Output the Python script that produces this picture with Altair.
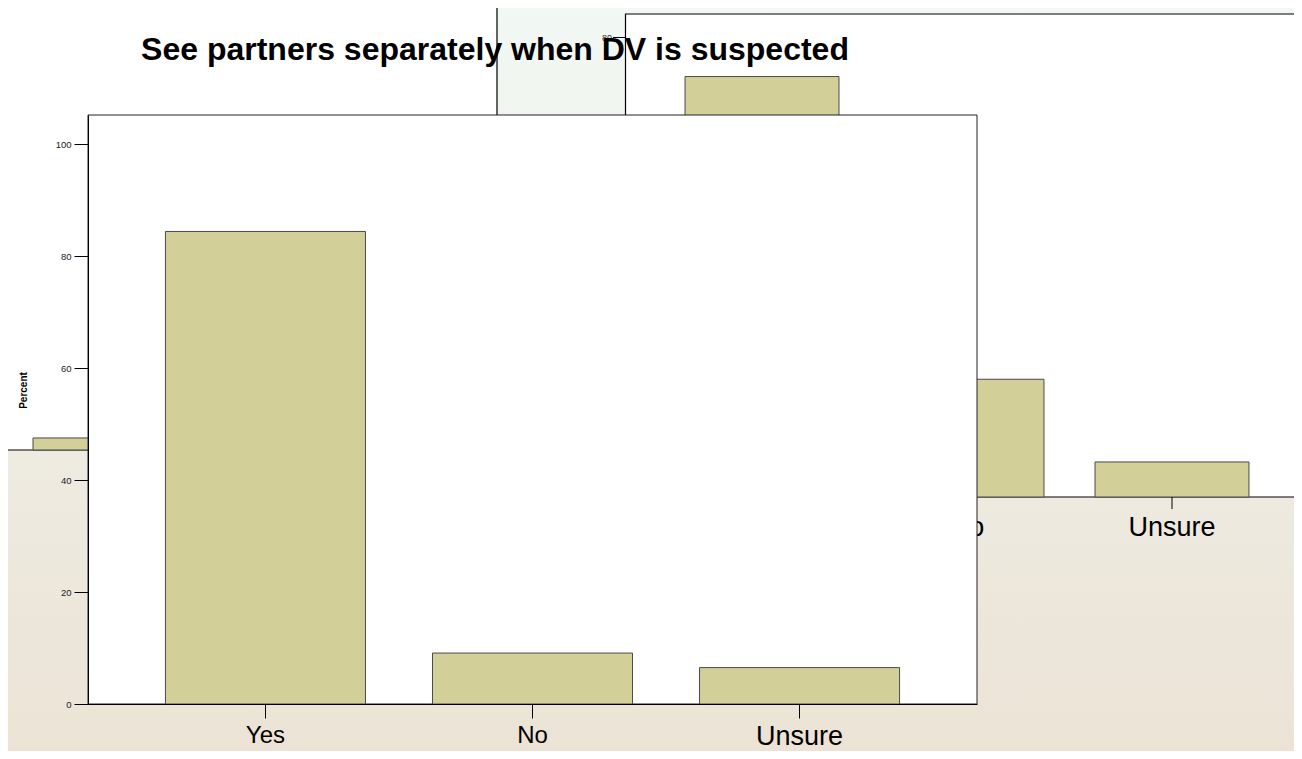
import altair as alt
import pandas as pd

# ---------------- data ----------------
categories = ["Yes", "No", "Unsure"]
main_values = [84.4, 9.1, 6.5]            # front chart (percent)
back_right_values = [73.2, 20.5, 6.1]     # chart peeking out behind, right
back_left_categories = ["Yes"]
back_left_values = [2.9]                  # only a sliver of this chart is visible
y_ticks = [0, 20, 40, 60, 80, 100]
back_right_tick = [80]
title_text = "See partners separately when DV is suspected"
y_title = "Percent"

main_df = pd.DataFrame({"cat": categories, "val": main_values})
br_df = pd.DataFrame({"cat": categories, "val": back_right_values})
bl_df = pd.DataFrame({"cat": back_left_categories, "val": back_left_values})
one = pd.DataFrame({"a": [0]})

# ---------------- layout (view = front plot frame) ----------------
W, H = 889, 589
PAD = dict(left=80, top=107, right=317, bottom=47)
FONT = "Liberation Sans"
BAR_FILL = "#d3cf98"
BAR_STROKE = "#4a4a4a"

bg = alt.Chart(one).mark_rect(
    color=alt.Gradient(
        gradient="linear", x1=0, x2=0, y1=0, y2=1,
        stops=[alt.GradientStop(color="#f2f8f4", offset=0),
               alt.GradientStop(color="#eeece2", offset=0.55),
               alt.GradientStop(color="#ece3d6", offset=1)],
    )
).encode(x=alt.value(-PAD["left"]), x2=alt.value(W + PAD["right"]),
         y=alt.value(-PAD["top"]), y2=alt.value(H + PAD["bottom"]))

# back-left panel
bl_panel = alt.Chart(one).mark_rect(fill="white", stroke="black", strokeWidth=1.2).encode(
    x=alt.value(-85), x2=alt.value(409), y=alt.value(-112), y2=alt.value(335))
bl_bars = alt.Chart(bl_df).mark_bar(fill=BAR_FILL, stroke=BAR_STROKE, strokeWidth=1).encode(
    x=alt.X("cat:N", sort=categories, axis=None,
            scale=alt.Scale(domain=categories, range=[-75, 405], paddingInner=0.25, paddingOuter=0.125)),
    y=alt.Y("val:Q", axis=None, scale=alt.Scale(domain=[0, 100], range=[335, -80], nice=False)),
)

# back-right panel
br_x = alt.Scale(domain=categories, range=[571.5, 1186.5], paddingInner=0.249, paddingOuter=0.1245)
br_y = alt.Scale(domain=[0, 80], range=[382, -77.5], nice=False)
br_panel = alt.Chart(one).mark_rect(fill="white", stroke="black", strokeWidth=1.2).encode(
    x=alt.value(537.5), x2=alt.value(1240), y=alt.value(-101), y2=alt.value(382))
br_bars = alt.Chart(br_df).mark_bar(fill=BAR_FILL, stroke=BAR_STROKE, strokeWidth=1).encode(
    x=alt.X("cat:N", sort=categories, axis=None, scale=br_x),
    y=alt.Y("val:Q", axis=None, scale=br_y),
)
br_ticks = alt.Chart(br_df).mark_rule(color="black", strokeWidth=1).encode(
    x=alt.X("cat:N", sort=categories, axis=None, scale=br_x),
    y=alt.value(382), y2=alt.value(394))
br_labels = alt.Chart(br_df).mark_text(font=FONT, fontSize=27, color="black",
                                       baseline="middle", align="center").encode(
    x=alt.X("cat:N", sort=categories, axis=None, scale=br_x),
    y=alt.value(413), text="cat:N")
br_ytick_df = pd.DataFrame({"v": back_right_tick})
br_ylabel = alt.Chart(br_ytick_df).mark_text(font=FONT, fontSize=9, color="#333",
                                              align="right", baseline="middle").encode(
    x=alt.value(524), y=alt.Y("v:Q", axis=None, scale=br_y), text="v:Q")
br_ytickmark = alt.Chart(br_ytick_df).mark_rule(color="black", strokeWidth=1).encode(
    x=alt.value(525), x2=alt.value(537.5), y=alt.Y("v:Q", axis=None, scale=br_y))

# front panel
main_panel = alt.Chart(one).mark_rect(fill="white", stroke="#222", strokeWidth=1).encode(
    x=alt.value(0), x2=alt.value(W), y=alt.value(0), y2=alt.value(H))

main_bars = alt.Chart(main_df).mark_bar(fill=BAR_FILL, stroke=BAR_STROKE, strokeWidth=1).encode(
    x=alt.X("cat:N", sort=categories, title=None,
            scale=alt.Scale(domain=categories, paddingInner=0.251, paddingOuter=0.29),
            axis=alt.Axis(orient="bottom", labelAngle=0, tickSize=14, tickColor="black",
                          domainColor="black", labelColor="black", labelFont=FONT,
                          labelPadding=5, zindex=1,
                          labelFontSize={"condition": {"test": "datum.value === 'Unsure'", "value": 27},
                                         "value": 24})),
    y=alt.Y("val:Q", title=y_title,
            scale=alt.Scale(domain=[0, 105.2], nice=False),
            axis=alt.Axis(orient="left", values=y_ticks, grid=False, tickSize=14, tickColor="black",
                          domainColor="black", labelColor="#222", labelFont=FONT, labelFontSize=9.5,
                          labelPadding=3, titleFont=FONT, titleFontSize=10, titleFontWeight="bold",
                          titleColor="black", titlePadding=27, titleY=275, zindex=1)),
)

title = alt.Chart(one).mark_text(text=title_text, font=FONT, fontSize=32, fontWeight="bold",
                                 color="black", align="center", baseline="alphabetic").encode(
    x=alt.value(407), y=alt.value(-55))

chart = alt.layer(
    bg, bl_panel, bl_bars, br_panel, br_bars, br_ticks, br_labels, br_ylabel, br_ytickmark,
    main_panel, main_bars, title
).resolve_scale(x="independent", y="independent").properties(
    width=W, height=H, padding=PAD, autosize=alt.AutoSizeParams(type="none"),
    background="#eee9de",
).configure_view(stroke=None)

chart.save("out.html", embed_options={"renderer": "svg", "actions": False})
